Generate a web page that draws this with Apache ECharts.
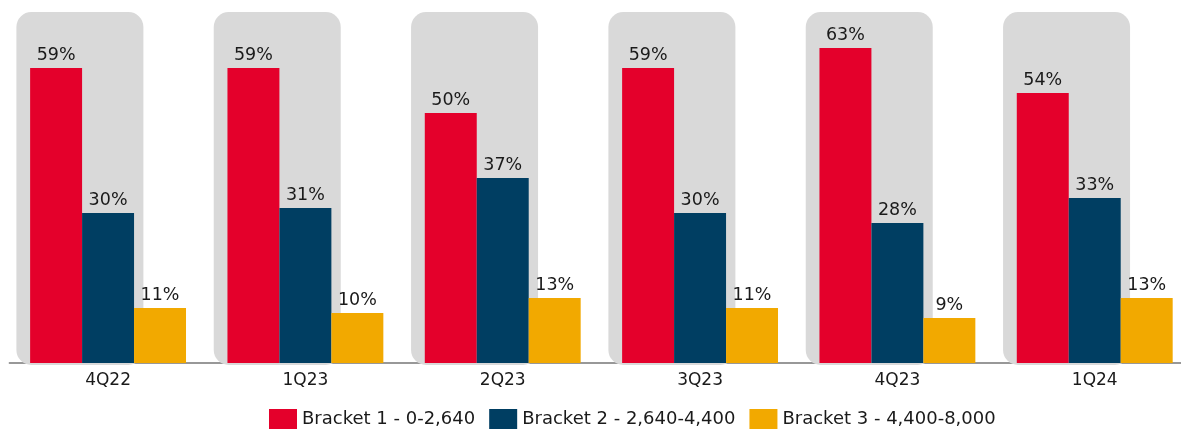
<!DOCTYPE html>
<html>
<head>
<meta charset="utf-8">
<script src="https://cdn.jsdelivr.net/npm/echarts@6/dist/echarts.min.js"></script>
<style>
html,body{margin:0;padding:0;background:#fff;}
#chart{width:1181px;height:434px;}
</style>
</head>
<body>
<div id="chart"></div>
<script>
var categories = ['4Q22', '1Q23', '2Q23', '3Q23', '4Q23', '1Q24'];
var seriesNames = ['Bracket 1 - 0-2,640', 'Bracket 2 - 2,640-4,400', 'Bracket 3 - 4,400-8,000'];
var bracket1 = [59, 59, 50, 59, 63, 54];
var bracket2 = [30, 31, 37, 30, 28, 33];
var bracket3 = [11, 10, 13, 11, 9, 13];
var colors = ['#E4002B', '#003E62', '#F2A900'];

var FONT = '"DejaVu Sans", sans-serif';
var chart = echarts.init(document.getElementById('chart'));

var labelStyle = {
  show: true,
  position: 'top',
  distance: 4,
  formatter: '{c}%',
  fontFamily: FONT,
  fontSize: 17.5,
  color: '#1a1a1a'
};

function barSeries(name, data, color) {
  return {
    name: name,
    type: 'bar',
    data: data,
    barGap: '0%',
    barCategoryGap: '21%',
    itemStyle: { color: color },
    label: labelStyle,
    z: 3
  };
}

var backdrop = {
  type: 'custom',
  name: 'backdrop',
  silent: true,
  z: 1,
  data: categories.map(function (c, i) { return [i, 70]; }),
  renderItem: function (params, api) {
    var top = api.coord([api.value(0), api.value(1)]);
    var base = api.coord([api.value(0), 0]);
    var band = api.size([1, 0])[0];
    var x0 = top[0] - band / 2 + 7;
    return {
      type: 'rect',
      shape: { x: x0, y: top[1] - 1, width: 127, height: base[1] - top[1] + 3, r: 15 },
      style: { fill: '#D9D9D9' }
    };
  }
};

chart.setOption({
  animation: false,
  backgroundColor: '#ffffff',
  grid: { left: 9.4, width: 1184, top: 13, bottom: 71, containLabel: false, outerBoundsMode: 'none' },
  legend: {
    data: seriesNames,
    bottom: 0,
    left: 264,
    itemWidth: 28,
    itemHeight: 20,
    itemGap: 14,
    icon: 'rect',
    textStyle: { fontFamily: FONT, fontSize: 18, color: '#1a1a1a' }
  },
  xAxis: {
    type: 'category',
    data: categories,
    axisLine: { show: true, lineStyle: { color: '#777777', width: 1.5 } },
    axisTick: { show: false },
    axisLabel: { fontFamily: FONT, fontSize: 17, color: '#1a1a1a', margin: 9 }
  },
  yAxis: {
    type: 'value',
    min: 0,
    max: 70,
    show: false,
    splitLine: { show: false }
  },
  series: [
    backdrop,
    barSeries(seriesNames[0], bracket1, colors[0]),
    barSeries(seriesNames[1], bracket2, colors[1]),
    barSeries(seriesNames[2], bracket3, colors[2])
  ]
});
</script>
</body>
</html>
